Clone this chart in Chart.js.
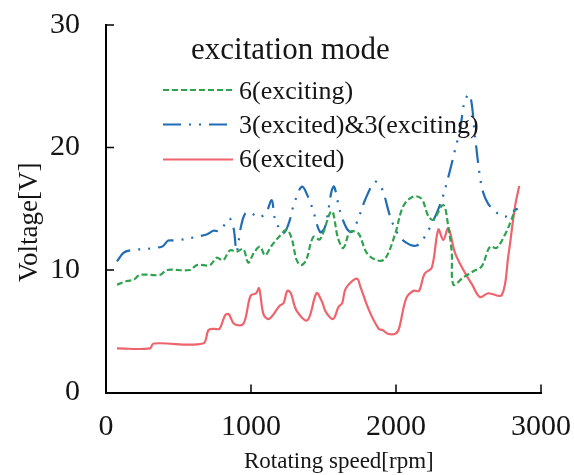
<!DOCTYPE html>
<html><head><meta charset="utf-8">
<script src="https://cdn.jsdelivr.net/npm/chart.js@4.4.1/dist/chart.umd.min.js"></script>
<style>html,body{margin:0;padding:0;background:#fff;}#wrap{width:574px;height:475px;}</style>
</head><body><div id="wrap"><canvas id="c" width="574" height="475"></canvas></div>
<script>
const xTicks = [0, 1000, 2000, 3000];
const yTicks = [0, 10, 20, 30];
const seriesNames = ['6(exciting)', '3(excited)&3(exciting)', '6(excited)'];
const legendTitle = 'excitation mode';
const xTitle = 'Rotating speed[rpm]';
const yTitle = 'Voltage[V]';

const excitingSpeed = [76,143,190,234,372,419,579,626,717,763,808,855,901,947,981,1020,1062,1097,1143,1200,1246,1280,1315,1345,1380,1430,1476,1556,1600,1637,1683,1740,1798,1867,1924,1993,2050,2119,2177,2223,2257,2326,2361,2384,2396,2465,2533,2591,2648,2694,2752,2786,2821];
const excitingVoltage = [8.8,9.1,9.2,9.6,9.6,10.0,10.0,10.4,10.4,11.0,10.8,11.6,11.5,11.7,10.6,11.4,11.9,11.2,12.0,12.8,13.3,12.6,10.8,10.4,10.8,12.7,12.5,14.8,12.6,11.8,13.1,13.0,11.4,10.8,10.9,12.9,15.2,16.0,15.8,14.4,14.1,15.3,13.5,11.5,8.8,9.4,9.9,10.3,11.9,11.8,12.9,13.8,14.9];

const mixedSpeed = [76,120,166,384,430,480,694,740,786,850,880,901,930,960,1000,1042,1100,1143,1165,1223,1260,1292,1350,1396,1430,1476,1510,1568,1614,1660,1694,1740,1786,1855,1901,1959,2005,2062,2143,2212,2303,2361,2407,2441,2476,2510,2545,2579,2602,2636,2683,2740,2786,2821,2840];
const mixedVoltage = [10.7,11.4,11.6,11.9,12.4,12.4,12.9,13.2,13.2,14.2,13.4,11.5,13.5,14.6,14.7,14.3,14.6,15.7,14.2,13.0,13.8,15.2,16.8,15.9,14.8,13.1,13.5,16.8,14.8,13.4,13.1,14.2,15.7,17.2,16.7,14.4,13.1,12.3,12.0,13.0,15.3,17.6,19.8,21.4,23.9,24.3,20.9,17.6,16.3,15.4,14.8,14.35,14.5,14.9,15.0];

const excitedSpeed = [76,303,328,669,707,745,783,821,846,884,947,997,1035,1056,1086,1124,1199,1225,1250,1275,1313,1389,1452,1490,1515,1566,1604,1629,1654,1730,1755,1818,1881,1907,1944,1995,2020,2071,2121,2159,2197,2247,2292,2326,2361,2407,2465,2525,2579,2636,2729,2774,2821,2850];
const excitedVoltage = [3.6,3.6,4.0,4.0,5.1,5.2,5.2,6.3,6.4,5.6,5.6,7.9,8.1,8.5,6.4,6.0,7.1,7.3,8.3,8.1,6.7,5.9,8.1,7.4,6.6,6.0,7.0,7.3,8.5,9.3,8.6,6.6,5.2,5.1,4.8,4.8,5.2,7.7,8.3,8.3,9.7,10.2,13.3,12.45,13.4,11.4,10.0,8.8,7.8,8.1,7.95,11.1,15.2,16.85];

const pts = (xs, ys) => xs.map((v, i) => ({x: v, y: ys[i]}));
const SERIF = '"Liberation Serif", "Times New Roman", serif';
const TEXT = '#151515';

const overlay = {
  id: 'overlay',
  afterDraw(chart) {
    const {ctx, chartArea: a, scales: {x, y}} = chart;
    ctx.save();
    ctx.strokeStyle = '#000'; ctx.lineWidth = 1.5; ctx.setLineDash([]);
    x.ticks.forEach(t => { if (t.value === 0) return; const px = x.getPixelForValue(t.value);
      ctx.beginPath(); ctx.moveTo(px, a.bottom); ctx.lineTo(px, a.bottom - 8); ctx.stroke(); });
    y.ticks.forEach(t => { if (t.value === 0) return; const py = y.getPixelForValue(t.value);
      ctx.beginPath(); ctx.moveTo(a.left, py); ctx.lineTo(a.left + 8, py); ctx.stroke(); });
    ctx.fillStyle = TEXT;
    ctx.font = '23px ' + SERIF; ctx.textAlign = 'left'; ctx.textBaseline = 'alphabetic';
    ctx.fillText(xTitle, 244, 468);
    ctx.save(); ctx.translate(37, 282); ctx.rotate(-Math.PI / 2);
    ctx.font = '27px ' + SERIF; ctx.fillText(yTitle, 0, 0); ctx.restore();
    ctx.font = '31px ' + SERIF; ctx.fillText(legendTitle, 191, 58.5);
    const lineY = [90, 124.5, 159.5];
    const textY = [99, 132.5, 166.5];
    chart.data.datasets.forEach((ds, i) => {
      ctx.save();
      ctx.strokeStyle = ds.borderColor; ctx.lineWidth = ds.borderWidth;
      ctx.setLineDash(ds.borderDash || []);
      ctx.beginPath(); ctx.moveTo(163, lineY[i]); ctx.lineTo(233, lineY[i]); ctx.stroke();
      ctx.restore();
      ctx.fillStyle = TEXT; ctx.font = '26px ' + SERIF;
      ctx.fillText(seriesNames[i], 239, textY[i]);
    });
    ctx.restore();
  }
};

new Chart(document.getElementById('c'), {
  type: 'line',
  data: {
    datasets: [
      {label: seriesNames[0], data: pts(excitingSpeed, excitingVoltage), borderColor: '#2ea24f', borderWidth: 2.2, borderDash: [6, 3]},
      {label: seriesNames[1], data: pts(mixedSpeed, mixedVoltage), borderColor: '#1f6db3', borderWidth: 2.2, borderDash: [18, 8, 2, 8, 2, 8]},
      {label: seriesNames[2], data: pts(excitedSpeed, excitedVoltage), borderColor: '#ef636c', borderWidth: 2.2}
    ]
  },
  options: {
    responsive: false, animation: false, devicePixelRatio: 1,
    layout: {padding: {top: 25, right: 33, left: 0, bottom: 0}},
    elements: {point: {radius: 0}, line: {tension: 0.35, fill: false}},
    plugins: {legend: {display: false}, tooltip: {enabled: false}},
    scales: {
      x: {
        type: 'linear', min: 0, max: 3000,
        afterBuildTicks: s => { s.ticks = xTicks.map(v => ({value: v})); },
        ticks: {font: {family: SERIF, size: 30}, color: TEXT, padding: 17, maxRotation: 0, autoSkip: false, callback: v => String(v)},
        grid: {display: false, drawTicks: false},
        border: {display: true, color: '#000', width: 2},
        afterFit: s => { s.height = 82.5; s.paddingLeft = 0; s.paddingRight = 0; }
      },
      y: {
        type: 'linear', min: 0, max: 30,
        afterBuildTicks: s => { s.ticks = yTicks.map(v => ({value: v})); },
        ticks: {font: {family: SERIF, size: 30}, color: TEXT, padding: 26, autoSkip: false, callback: v => String(v)},
        grid: {display: false, drawTicks: false},
        border: {display: true, color: '#000', width: 2},
        afterFit: s => { s.width = 106; s.paddingTop = 0; s.paddingBottom = 0; }
      }
    }
  },
  plugins: [overlay]
});
</script></body></html>
